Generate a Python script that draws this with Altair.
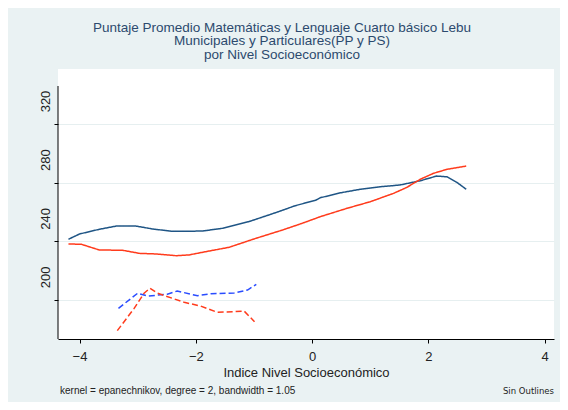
import altair as alt
import pandas as pd

# ---- data ----
blue_solid_x = [-4.19, -4.00, -3.66, -3.37, -3.03, -2.74, -2.40, -1.89, -1.54, -1.09, -0.63, -0.29, 0.06, 0.14, 0.49, 0.83, 1.17, 1.51, 1.86, 2.14, 2.32, 2.49, 2.65]
blue_solid_y = [241.4, 245.0, 248.2, 250.4, 250.4, 248.4, 246.8, 247.0, 248.9, 253.4, 259.5, 264.3, 268.0, 269.7, 273.1, 275.5, 277.2, 278.4, 281.3, 284.5, 284.0, 280.2, 275.5]

red_solid_x = [-4.19, -3.97, -3.66, -3.26, -2.97, -2.69, -2.34, -2.12, -1.77, -1.43, -0.97, -0.51, -0.17, 0.14, 0.60, 1.00, 1.40, 1.63, 1.86, 2.09, 2.32, 2.65]
red_solid_y = [238.2, 238.0, 234.1, 233.9, 231.8, 231.4, 230.2, 230.7, 233.4, 235.9, 242.0, 247.7, 252.3, 256.8, 262.5, 267.0, 272.7, 276.8, 282.3, 286.4, 289.1, 291.3]

blue_dash_x = [-3.33, -3.00, -2.83, -2.49, -2.32, -1.97, -1.74, -1.34, -1.11, -0.96]
blue_dash_y = [194.3, 204.6, 202.7, 203.9, 206.1, 202.9, 204.3, 204.8, 206.8, 210.7]

red_dash_x = [-3.35, -3.06, -2.89, -2.79, -2.66, -2.20, -1.92, -1.63, -1.34, -1.17, -0.99]
red_dash_y = [179.1, 194.3, 204.6, 208.0, 204.6, 198.4, 195.9, 191.6, 192.0, 192.5, 185.2]

series_names = ["Serie 1", "Serie 2", "Serie 3", "Serie 4"]
series_colors = ["#1f5585", "#ff3b1c", "#2a4cff", "#ff3b1c"]
series_dashes = [[1, 0], [1, 0], [6, 3], [6, 3]]

x_ticks = [-4, -2, 0, 2, 4]
y_ticks = [200, 240, 280, 320]

title_lines = [
    "Puntaje Promedio Matemáticas y Lenguaje Cuarto básico Lebu",
    "Municipales y Particulares(PP y PS)",
    "por Nivel Socioeconómico",
]
x_title = "Indice Nivel Socioeconómico"
note_left = "kernel = epanechnikov, degree = 2, bandwidth = 1.05"
note_right = "Sin Outlines"

rows = []
for name, xs, ys in zip(series_names,
                        [blue_solid_x, red_solid_x, blue_dash_x, red_dash_x],
                        [blue_solid_y, red_solid_y, blue_dash_y, red_dash_y]):
    for i, (a, b) in enumerate(zip(xs, ys)):
        rows.append({"serie": name, "x": a, "y": b, "ord": i})
df = pd.DataFrame(rows)

W, H = 496, 270
FONT = "Liberation Sans"

xscale = alt.Scale(domain=[-4.37, 4.16], nice=False, zero=False)
yscale = alt.Scale(domain=[173.4, 357.5], nice=False, zero=False)

lines = alt.Chart(df).mark_line(strokeWidth=1.5, clip=True).encode(
    x=alt.X("x:Q", scale=xscale,
            axis=alt.Axis(values=x_ticks, format="d", grid=False, domainColor="#000",
                          domainWidth=1, tickColor="#000", tickSize=4,
                          labelFont=FONT, labelFontSize=13, labelColor="#222",
                          labelPadding=7, title=x_title, titleFont=FONT,
                          titleFontSize=13, titleFontWeight="normal",
                          titleColor="#222", titlePadding=3)),
    y=alt.Y("y:Q", scale=yscale,
            axis=alt.Axis(values=y_ticks, grid=True, gridColor="#e6eff0", gridWidth=1.2,
                          domain=False, tickColor="#000", tickSize=4,
                          labelAngle=270, labelAlign="center", labelBaseline="bottom",
                          labelOffset=-23, labelPadding=2,
                          labelFont=FONT, labelFontSize=13, labelColor="#222",
                          title=None)),
    color=alt.Color("serie:N", scale=alt.Scale(domain=series_names, range=series_colors), legend=None),
    strokeDash=alt.StrokeDash("serie:N", scale=alt.Scale(domain=series_names, range=series_dashes), legend=None),
    order="ord:Q",
)

yline = alt.Chart(pd.DataFrame({"a": [0]})).mark_rule(color="#000", strokeWidth=1).encode(
    x=alt.value(0), y=alt.value(17), y2=alt.value(H)
)

notes_df = pd.DataFrame({"t": [note_left]})
note1 = alt.Chart(notes_df).mark_text(
    font=FONT, fontSize=10, align="left", baseline="middle", color="#222"
).encode(text="t:N", x=alt.value(2), y=alt.value(H + 52))

note2 = alt.Chart(pd.DataFrame({"t": [note_right]})).mark_text(
    font="DejaVu Sans", fontSize=8.5, align="right", baseline="middle", color="#222"
).encode(text="t:N", x=alt.value(W), y=alt.value(H + 52))

chart = alt.layer(lines, yline, note1, note2).properties(
    width=W, height=H,
    autosize=alt.AutoSizeParams(type="none"),
    padding={"left": 50, "top": 61, "right": 6, "bottom": 63},
    background="#eaf2f3",
    title=alt.TitleParams(text=title_lines, font=FONT, fontSize=13.5, fontWeight="normal",
                          color="#2c4a6e", anchor="middle", dx=-24, offset=8, lineHeight=13.5),
).configure_view(fill="white", stroke=None)

chart.save("out.html", embed_options={"renderer": "svg", "actions": False})
